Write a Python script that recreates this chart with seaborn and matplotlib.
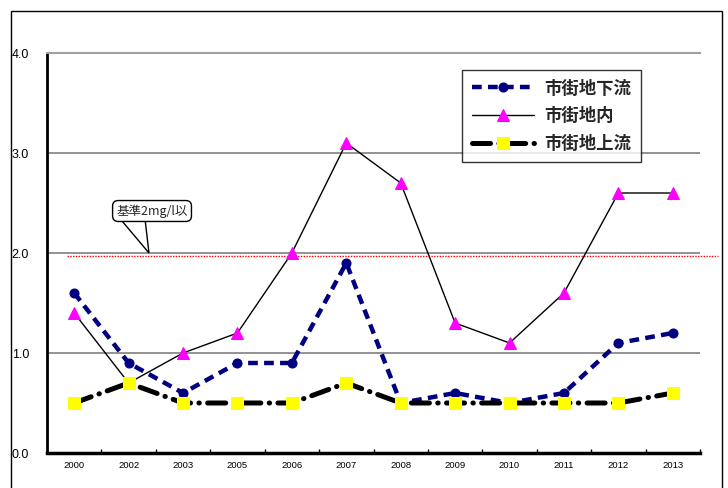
import matplotlib
matplotlib.use("Agg")
import matplotlib.pyplot as plt
import matplotlib.patches as mpatches
from matplotlib.ticker import FixedLocator, NullFormatter
import seaborn as sns
import pandas as pd

years = ["2000", "2002", "2003", "2005", "2006", "2007", "2008", "2009", "2010", "2011", "2012", "2013"]
downstream = [1.6, 0.9, 0.6, 0.9, 0.9, 1.9, 0.5, 0.6, 0.5, 0.6, 1.1, 1.2]
inner = [1.4, 0.7, 1.0, 1.2, 2.0, 3.1, 2.7, 1.3, 1.1, 1.6, 2.6, 2.6]
upstream = [0.5, 0.7, 0.5, 0.5, 0.5, 0.7, 0.5, 0.5, 0.5, 0.5, 0.5, 0.6]
series_names = ["市街地下流", "市街地内", "市街地上流"]
y_ticks = [0.0, 1.0, 2.0, 3.0, 4.0]
standard_value = 2.0
standard_label = "基準2mg/l以"

sns.set_theme(style="white")
plt.rcParams["font.family"] = ["Liberation Sans", "Noto Sans CJK JP", "DejaVu Sans"]
plt.rcParams["lines.scale_dashes"] = False
JP = ["Noto Sans CJK JP", "DejaVu Sans"]

pos = list(range(len(years)))
df = pd.DataFrame({"pos": pos, "down": downstream, "inner": inner, "up": upstream})

fig = plt.figure(figsize=(7.28, 4.88), dpi=100)
fig.patch.set_facecolor("white")
ax = fig.add_axes([47 / 728, 35 / 488, 653 / 728, 400 / 488])

# outer border of the chart area
fig.patches.append(mpatches.Rectangle((11 / 728, -0.1), 711 / 728, (477 / 488) + 0.1,
                                      transform=fig.transFigure, fill=False,
                                      edgecolor="black", linewidth=1.0, zorder=0))

sns.lineplot(data=df, x="pos", y="down", ax=ax, color="#000080", linewidth=3.2,
             linestyle=(0, (7, 4.5)), marker="o", markersize=6.5,
             markeredgecolor="#000080", markerfacecolor="#000080",
             label=series_names[0], zorder=4, dash_capstyle="butt")
sns.lineplot(data=df, x="pos", y="inner", ax=ax, color="black", linewidth=1.0,
             marker="^", markersize=9, markerfacecolor="#FF00FF",
             markeredgecolor="#FF00FF", label=series_names[1], zorder=5)
sns.lineplot(data=df, x="pos", y="up", ax=ax, color="black", linewidth=3.6,
             linestyle=(0, (13, 6, 0.3, 6)), dash_capstyle="round",
             marker="s", markersize=9, markerfacecolor="#FFFF00",
             markeredgecolor="#FFFF00", label=series_names[2], zorder=6)

ax.set_xlim(-0.5, len(years) - 0.5)
ax.set_ylim(0, 4)
ax.set_xlabel("")
ax.set_ylabel("")

# standard line (drawn just under the 2.0 gridline, as in the source)
ax.axhline(standard_value - 0.025, xmin=20 / 653, xmax=671 / 653, color="red",
           linestyle=(0, (1, 1)), linewidth=1.0, clip_on=False, zorder=3)

ax.yaxis.grid(True, color="#808080", linewidth=1.2, zorder=1)
ax.xaxis.grid(False)
ax.set_axisbelow(True)
ax.set_yticks(y_ticks)
ax.set_yticklabels([f"{v:.1f}" for v in y_ticks])
ax.tick_params(axis="y", length=0, pad=13, labelsize=9, colors="black")

ax.set_xticks(pos)
ax.set_xticklabels(years)
ax.xaxis.set_minor_locator(FixedLocator([p + 0.5 for p in pos[:-1]] + [len(years) - 0.5]))
ax.xaxis.set_minor_formatter(NullFormatter())
ax.tick_params(axis="x", which="major", length=0, pad=6, labelsize=6.8, colors="black")
ax.tick_params(axis="x", which="minor", direction="in", length=3, width=1, color="black", bottom=True)

ax.spines["left"].set_color("black")
ax.spines["left"].set_linewidth(2.0)
ax.spines["bottom"].set_color("black")
ax.spines["bottom"].set_linewidth(2.5)
ax.spines["right"].set_visible(False)
ax.spines["top"].set_color("#A0A0A0")
ax.spines["top"].set_linewidth(1.5)

leg = ax.legend(loc="upper left", bbox_to_anchor=((462 - 47) / 653, (453 - 70) / 400),
                borderaxespad=0, frameon=True, fancybox=False, edgecolor="black",
                handlelength=3.6, handletextpad=0.6, labelspacing=0.55,
                borderpad=0.55, prop={"family": JP, "size": 12.5, "weight": "bold"})
leg.get_frame().set_linewidth(1.0)
leg.set_zorder(10)

# callout: a slanted wedge from the label box to the standard line
callout = mpatches.Polygon([(0.84, 2.345), (1.374, standard_value), (1.30, 2.345)],
                           closed=False, fill=False, edgecolor="black", linewidth=1.0,
                           zorder=7)
ax.add_patch(callout)
ax.text(1.43, 2.42, standard_label, ha="center", va="center", fontsize=9, family=JP,
        bbox=dict(boxstyle="round,pad=0.3,rounding_size=0.45", fc="white", ec="black", lw=1.0),
        zorder=8)

fig.savefig("out.png", dpi=100)
